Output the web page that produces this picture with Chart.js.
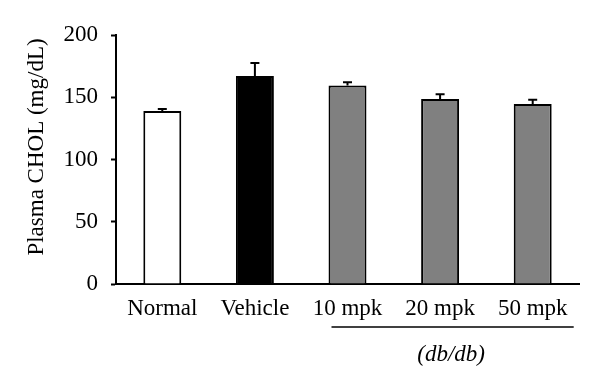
<!DOCTYPE html>
<html>
<head>
<meta charset="utf-8">
<script src="https://cdn.jsdelivr.net/npm/chart.js@4.4.1/dist/chart.umd.min.js"></script>
<style>
  html, body { margin: 0; padding: 0; background: #fff; }
  #wrap { width: 600px; height: 391px; position: relative; }
</style>
</head>
<body>
<div id="wrap"><canvas id="chart"></canvas></div>
<script>
// Data
const groups = ['Normal', 'Vehicle', '10 mpk', '20 mpk', '50 mpk'];
const cholValues = [139, 167, 159.5, 148.5, 144.5];
const cholErrors = [1.5, 10.5, 2.5, 4, 3.5];
const barColors = ['#ffffff', '#000000', '#808080', '#808080', '#808080'];
const yTicks = [0, 50, 100, 150, 200];
const yTitle = 'Plasma CHOL (mg/dL)';
const groupNote = '(db/db)';

const FONT = '"Liberation Serif", "Times New Roman", serif';

// Upper error bars, drawn from the bar's own scale positions
const errorBars = {
    id: 'errorBars',
    afterDatasetsDraw(chart) {
        const ctx = chart.ctx;
        const y = chart.scales.y;
        const meta = chart.getDatasetMeta(0);
        ctx.save();
        ctx.strokeStyle = '#000';
        ctx.lineWidth = 2;
        meta.data.forEach((bar, i) => {
            const top = y.getPixelForValue(cholValues[i]);
            const cap = y.getPixelForValue(cholValues[i] + cholErrors[i]);
            ctx.beginPath();
            ctx.moveTo(bar.x, top);
            ctx.lineTo(bar.x, cap);
            ctx.moveTo(bar.x - 4.5, cap);
            ctx.lineTo(bar.x + 4.5, cap);
            ctx.stroke();
        });
        ctx.restore();
    }
};

// Y title, bracket line under the db/db groups and its label
const annotations = {
    id: 'annotations',
    afterDraw(chart) {
        const ctx = chart.ctx;
        const x = chart.scales.x;
        const area = chart.chartArea;
        ctx.save();
        ctx.fillStyle = '#000';
        ctx.font = '23px ' + FONT;
        ctx.textAlign = 'center';
        ctx.textBaseline = 'middle';
        ctx.translate(37, 147);
        ctx.rotate(-Math.PI / 2);
        ctx.fillText(yTitle, 0, 0);
        ctx.restore();

        ctx.save();
        const x0 = x.getPixelForValue(2) - 16;
        const x1 = x.getPixelForValue(4) + 41;
        ctx.strokeStyle = '#000';
        ctx.lineWidth = 1.5;
        ctx.beginPath();
        ctx.moveTo(x0, area.bottom + 43);
        ctx.lineTo(x1, area.bottom + 43);
        ctx.stroke();

        ctx.fillStyle = '#000';
        ctx.font = 'italic 23px ' + FONT;
        ctx.textAlign = 'center';
        ctx.textBaseline = 'middle';
        ctx.fillText(groupNote, x.getPixelForValue(3) + 11, area.bottom + 71);
        ctx.restore();
    }
};

new Chart(document.getElementById('chart'), {
    type: 'bar',
    data: {
        labels: groups,
        datasets: [{
            data: cholValues,
            backgroundColor: barColors,
            borderColor: '#000',
            borderWidth: 2,
            borderSkipped: 'bottom',
            barPercentage: 0.41,
            categoryPercentage: 1
        }]
    },
    options: {
        responsive: true,
        maintainAspectRatio: false,
        animation: false,
        devicePixelRatio: 1,
        layout: { padding: { top: 35, right: 21, left: 0, bottom: 0 } },
        plugins: {
            legend: { display: false },
            tooltip: { enabled: false }
        },
        scales: {
            x: {
                grid: { display: false, drawTicks: false },
                border: { display: true, color: '#000', width: 2 },
                ticks: {
                    color: '#000',
                    padding: 11,
                    font: { family: FONT, size: 23 },
                    maxRotation: 0,
                    autoSkip: false
                },
                afterFit(scale) { scale.height = 107; }
            },
            y: {
                min: 0,
                max: 200,
                afterBuildTicks(scale) {
                    scale.ticks = yTicks.map(v => ({ value: v }));
                },
                grid: {
                    drawOnChartArea: false,
                    drawTicks: true,
                    tickLength: 5,
                    tickWidth: 2,
                    tickColor: '#000'
                },
                border: { display: true, color: '#000', width: 2 },
                ticks: {
                    color: '#000',
                    padding: 13,
                    font: { family: FONT, size: 23 }
                },
                afterFit(scale) { scale.width = 116; }
            }
        }
    },
    plugins: [errorBars, annotations]
});
</script>
</body>
</html>
